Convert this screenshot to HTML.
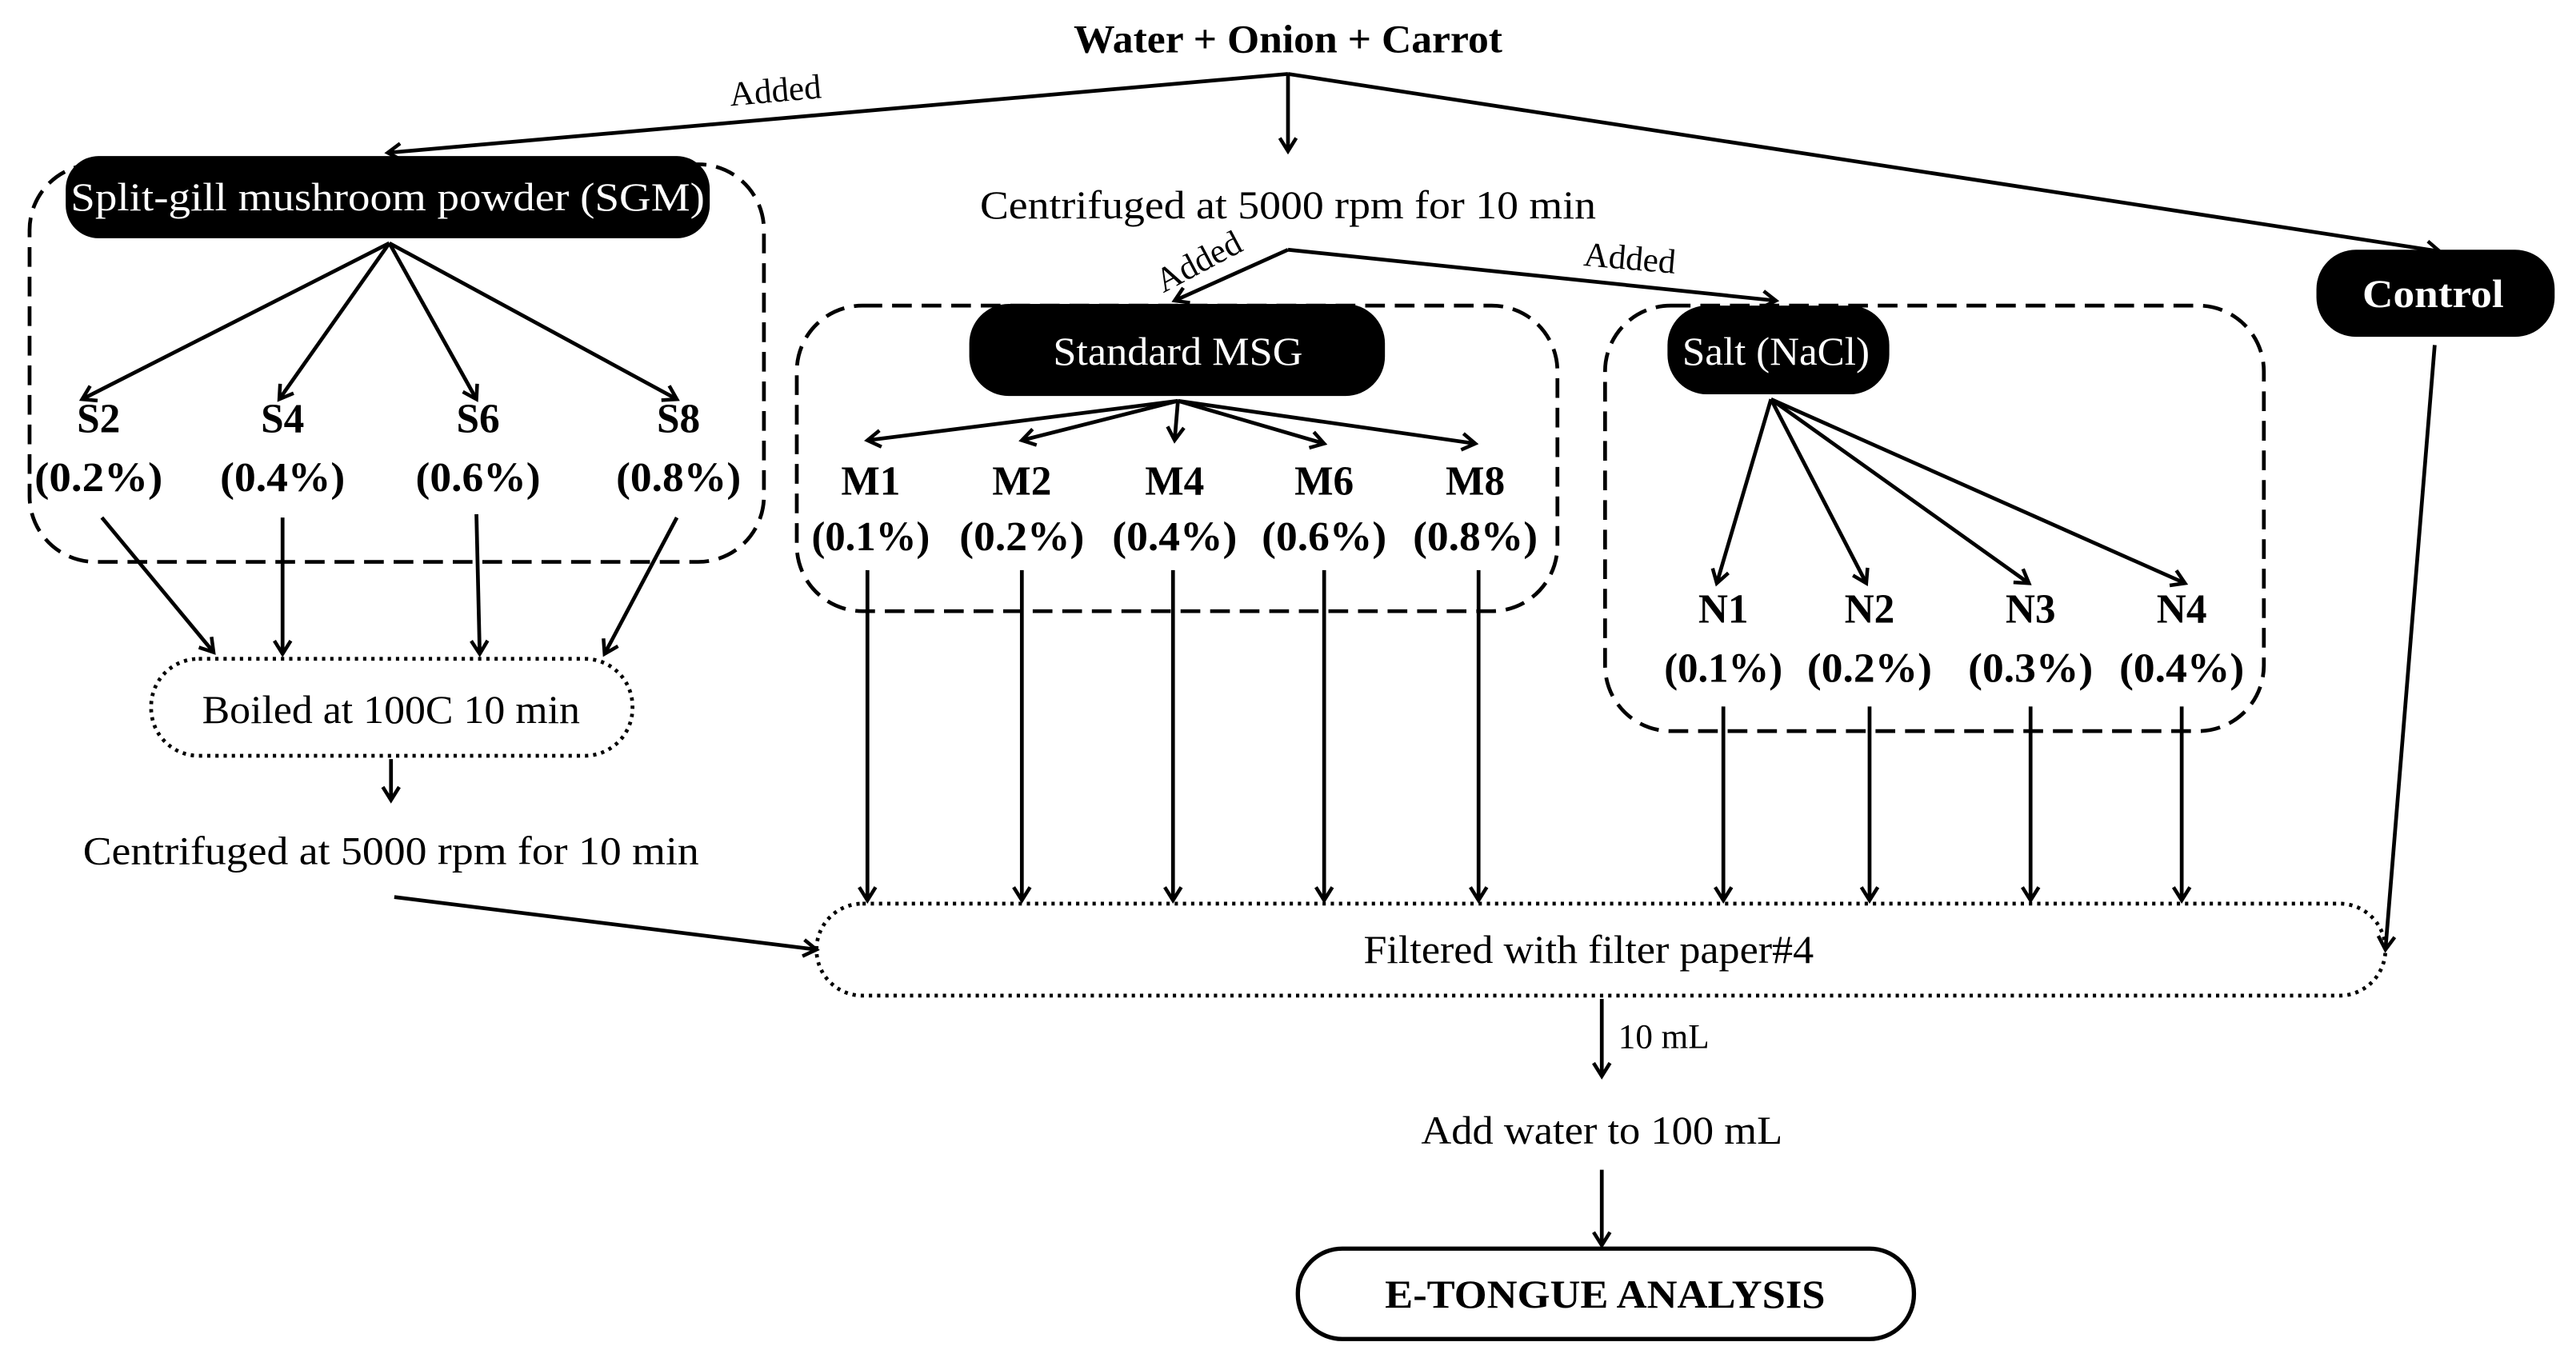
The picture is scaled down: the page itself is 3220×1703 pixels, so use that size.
<!DOCTYPE html>
<html><head><meta charset="utf-8"><style>
html,body{margin:0;padding:0;background:#fff;}
svg{display:block;}
text{font-family:"Liberation Serif",serif;fill:#000;}
.b{font-weight:bold;}
.w{fill:#fff;}
</style></head><body>
<svg width="3220" height="1703" viewBox="0 0 1568 829" preserveAspectRatio="none" xmlns="http://www.w3.org/2000/svg">
<defs>
<marker id="a" markerWidth="12" markerHeight="12" refX="9" refY="6" orient="auto" markerUnits="userSpaceOnUse">
<path d="M1,1 L9,6 L1,11" fill="none" stroke="#000" stroke-width="2.2"/>
</marker>
</defs>
<g stroke="#000" stroke-width="2.3" fill="none">
<line x1="784" y1="45" x2="236" y2="93" marker-end="url(#a)"/>
<line x1="784" y1="45" x2="784" y2="92" marker-end="url(#a)"/>
<line x1="784" y1="45" x2="1485" y2="153" marker-end="url(#a)"/>
<line x1="784" y1="152" x2="715" y2="183" marker-end="url(#a)"/>
<line x1="784" y1="152" x2="1081" y2="183" marker-end="url(#a)"/>
<rect x="18" y="100" width="447" height="242" rx="40" stroke-dasharray="12,6"/>
<rect x="485" y="186" width="463" height="186" rx="40" stroke-dasharray="12,6"/>
<rect x="977" y="186" width="401" height="259" rx="40" stroke-dasharray="12,6"/>
<line x1="237" y1="148" x2="50" y2="243" marker-end="url(#a)"/>
<line x1="237" y1="148" x2="170" y2="243" marker-end="url(#a)"/>
<line x1="237" y1="148" x2="290" y2="243" marker-end="url(#a)"/>
<line x1="237" y1="148" x2="412" y2="243" marker-end="url(#a)"/>
<line x1="62" y1="315" x2="130" y2="397" marker-end="url(#a)"/>
<line x1="172" y1="315" x2="172" y2="398" marker-end="url(#a)"/>
<line x1="290" y1="313" x2="292" y2="398" marker-end="url(#a)"/>
<line x1="412" y1="315" x2="368" y2="398" marker-end="url(#a)"/>
<rect x="92" y="401" width="293" height="59" rx="29" stroke-dasharray="2,3"/>
<line x1="238" y1="462" x2="238" y2="487" marker-end="url(#a)"/>
<line x1="240" y1="546" x2="497" y2="578" marker-end="url(#a)"/>
<line x1="717" y1="244" x2="528" y2="268" marker-end="url(#a)"/>
<line x1="717" y1="244" x2="622" y2="268" marker-end="url(#a)"/>
<line x1="717" y1="244" x2="715" y2="268" marker-end="url(#a)"/>
<line x1="717" y1="244" x2="806" y2="270" marker-end="url(#a)"/>
<line x1="717" y1="244" x2="898" y2="270" marker-end="url(#a)"/>
<line x1="528" y1="347" x2="528" y2="548" marker-end="url(#a)"/>
<line x1="622" y1="347" x2="622" y2="548" marker-end="url(#a)"/>
<line x1="714" y1="347" x2="714" y2="548" marker-end="url(#a)"/>
<line x1="806" y1="347" x2="806" y2="548" marker-end="url(#a)"/>
<line x1="900" y1="347" x2="900" y2="548" marker-end="url(#a)"/>
<line x1="1078" y1="243" x2="1045" y2="355" marker-end="url(#a)"/>
<line x1="1078" y1="243" x2="1136" y2="355" marker-end="url(#a)"/>
<line x1="1078" y1="243" x2="1235" y2="355" marker-end="url(#a)"/>
<line x1="1078" y1="243" x2="1330" y2="355" marker-end="url(#a)"/>
<line x1="1049" y1="430" x2="1049" y2="548" marker-end="url(#a)"/>
<line x1="1138" y1="430" x2="1138" y2="548" marker-end="url(#a)"/>
<line x1="1236" y1="430" x2="1236" y2="548" marker-end="url(#a)"/>
<line x1="1328" y1="430" x2="1328" y2="548" marker-end="url(#a)"/>
<line x1="1482" y1="210" x2="1452" y2="578" marker-end="url(#a)"/>
<rect x="497" y="550" width="955" height="56" rx="28" stroke-dasharray="2,3"/>
<line x1="975" y1="608" x2="975" y2="655" marker-end="url(#a)"/>
<line x1="975" y1="712" x2="975" y2="758" marker-end="url(#a)"/>
<rect x="790" y="760" width="375" height="55" rx="27" stroke-width="2.6"/>
</g>
<rect x="40" y="95" width="392" height="50" rx="20" fill="#000"/>
<rect x="590" y="185" width="253" height="56" rx="24" fill="#000"/>
<rect x="1015" y="186" width="135" height="54" rx="24" fill="#000"/>
<rect x="1410" y="152" width="145" height="53" rx="24" fill="#000"/>
<g text-anchor="middle" font-size="24">
<text x="784" y="32" class="b" textLength="261" lengthAdjust="spacingAndGlyphs">Water + Onion + Carrot</text>
<text x="784" y="133" textLength="375" lengthAdjust="spacingAndGlyphs">Centrifuged at 5000 rpm for 10 min</text>
<text x="236" y="128" class="w" textLength="386" lengthAdjust="spacingAndGlyphs">Split-gill mushroom powder (SGM)</text>
<text x="717" y="222" class="w" textLength="152" lengthAdjust="spacingAndGlyphs">Standard MSG</text>
<text x="1081" y="222" class="w" textLength="114" lengthAdjust="spacingAndGlyphs">Salt (NaCl)</text>
<text x="1481" y="187" class="w b" textLength="86" lengthAdjust="spacingAndGlyphs">Control</text>
<text x="238" y="440" textLength="230" lengthAdjust="spacingAndGlyphs">Boiled at 100C 10 min</text>
<text x="238" y="526" textLength="375" lengthAdjust="spacingAndGlyphs">Centrifuged at 5000 rpm for 10 min</text>
<text x="967" y="586" textLength="274" lengthAdjust="spacingAndGlyphs">Filtered with filter paper#4</text>
<text x="975" y="696" textLength="220" lengthAdjust="spacingAndGlyphs">Add water to 100 mL</text>
<text x="977" y="796" class="b" textLength="268" lengthAdjust="spacingAndGlyphs">E-TONGUE ANALYSIS</text>
<g class="b" font-size="25">
<text x="60" y="263">S2</text><text x="60" y="299" textLength="78" lengthAdjust="spacingAndGlyphs">(0.2%)</text>
<text x="172" y="263">S4</text><text x="172" y="299" textLength="76" lengthAdjust="spacingAndGlyphs">(0.4%)</text>
<text x="291" y="263">S6</text><text x="291" y="299" textLength="76" lengthAdjust="spacingAndGlyphs">(0.6%)</text>
<text x="413" y="263">S8</text><text x="413" y="299" textLength="76" lengthAdjust="spacingAndGlyphs">(0.8%)</text>
<text x="530" y="301">M1</text><text x="530" y="335" textLength="72" lengthAdjust="spacingAndGlyphs">(0.1%)</text>
<text x="622" y="301">M2</text><text x="622" y="335" textLength="76" lengthAdjust="spacingAndGlyphs">(0.2%)</text>
<text x="715" y="301">M4</text><text x="715" y="335" textLength="76" lengthAdjust="spacingAndGlyphs">(0.4%)</text>
<text x="806" y="301">M6</text><text x="806" y="335" textLength="76" lengthAdjust="spacingAndGlyphs">(0.6%)</text>
<text x="898" y="301">M8</text><text x="898" y="335" textLength="76" lengthAdjust="spacingAndGlyphs">(0.8%)</text>
<text x="1049" y="379">N1</text><text x="1049" y="415" textLength="72" lengthAdjust="spacingAndGlyphs">(0.1%)</text>
<text x="1138" y="379">N2</text><text x="1138" y="415" textLength="76" lengthAdjust="spacingAndGlyphs">(0.2%)</text>
<text x="1236" y="379">N3</text><text x="1236" y="415" textLength="76" lengthAdjust="spacingAndGlyphs">(0.3%)</text>
<text x="1328" y="379">N4</text><text x="1328" y="415" textLength="76" lengthAdjust="spacingAndGlyphs">(0.4%)</text>
</g>
</g>
<g font-size="21">
<text x="472" y="62" text-anchor="middle" transform="rotate(-5 472 56)">Added</text>
<text x="730" y="166" text-anchor="middle" transform="rotate(-28 730 160)">Added</text>
<text x="992" y="164" text-anchor="middle" transform="rotate(5 992 158)">Added</text>
<text x="985" y="638">10 mL</text>
</g>
</svg>
</body></html>
